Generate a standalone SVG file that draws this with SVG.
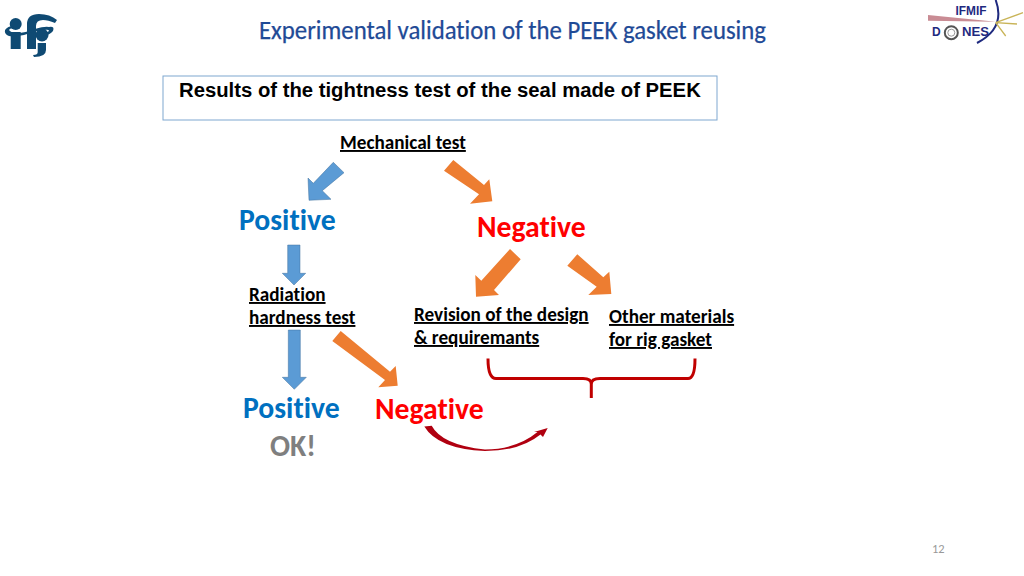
<svg xmlns="http://www.w3.org/2000/svg" width="1024" height="576" viewBox="0 0 1024 576">
<style>
text{font-family:Carlito,Lato,"Open Sans","Liberation Sans",sans-serif;font-variant-ligatures:none}
.lbl{font-size:19.2px;font-weight:700;fill:#000;text-decoration:underline}
.big{font-size:29.7px;font-weight:700}
.pos{fill:#0070C0}.neg{fill:#FF0000}
.blue{fill:#5B9BD5;stroke:#41719C;stroke-width:.5}
.org{fill:#ED7D31}
.lg{font-family:"Liberation Sans",sans-serif;font-weight:700;fill:#1F2A7F}
</style>
<rect width="1024" height="576" fill="#fff"/>
<g id="logo-ifj" fill="#0F4A73">
<circle cx="15.7" cy="24" r="6"/><rect x="10.7" y="32" width="10" height="17"/>
<path d="M27 49V24q0-10 12-10q11 0 18 6l-2 3q-7-3-12-3q-7 0-7 6v23z"/>
<circle cx="42" cy="35" r="6.5"/><path d="M37.700 43h8.300v7q0 7-12 7l-1-2q5 0 4.700-3z"/>
<path d="M5 30q3-4 8-4l1 2q-4 0-5 2q2 3 8 3q8 0 18-4q10-3 14-2q6-1 4 4q-3 4-10 5l-1-2q5-1 7-3q0-2-5-1q-10 1-20 5q-10 2-15 1q-5-2-4-6z"/>
</g>
<g id="title"><text x="512.500" y="39" text-anchor="middle" font-size="26" fill="#1F4A96" stroke="#1F4A96" stroke-width=".25" textLength="507" lengthAdjust="spacingAndGlyphs">Experimental validation of the PEEK gasket reusing</text></g>
<g id="logo-dones">
<path d="M928 15L996 21.700L928 20.700z" fill="#C98C94"/>
<path d="M995.700 0Q1006 28 977 43" fill="none" stroke="#1F2A7F" stroke-width="2"/>
<path d="M995.700 22.700L1023 12.700M995.700 22.700L1017 24M995.700 22.700L1005.700 36" stroke="#C9B458" stroke-width="1.300" fill="none"/>
<text class="lg" x="955.500" y="14.500" font-size="12" textLength="31" lengthAdjust="spacingAndGlyphs">IFMIF</text>
<text class="lg" x="932" y="36" font-size="12">D</text>
<circle cx="951.300" cy="32.700" r="6.500" fill="none" stroke="#555" stroke-width="2"/>
<circle cx="951.300" cy="32.700" r="3.500" fill="none" stroke="#999" stroke-width="1"/>
<text class="lg" x="962" y="36" font-size="12" textLength="27" lengthAdjust="spacingAndGlyphs">NES</text>
</g>
<g id="header-box">
<rect x="163" y="76" width="554" height="44" fill="#fff" stroke="#7FA7D0" stroke-width="1"/>
<text x="179" y="97" style="font-family:'Liberation Sans',Arial,sans-serif" font-size="20.300" font-weight="700" fill="#000">Results of the tightness test of the seal made of PEEK</text>
</g>
<g id="connectors">
<polygon class="blue" points="333.300,162.300 344,172.700 322.300,190.700 331,199.300 309,200.300 308,178 313.300,183.300"/>
<polygon class="org" points="453.300,160 444,170.700 479,194.300 470,203.700 492.300,201.300 489.300,179.300 484,185"/>
<polygon class="blue" points="287.700,245 300,245 300,273.300 305.700,273.300 294,285 282.300,273.300 287.700,273.300"/>
<polygon class="org" points="510,249 520.700,259.300 494,290 499,295 476,296.700 475.300,275 481.300,280.700"/>
<polygon class="org" points="577.300,254.300 567.300,265.700 596.700,286.700 588.300,295 611.300,294 609.300,271.700 603.300,277.300"/>
<polygon class="blue" points="288.300,330 300.300,330 300.300,377.300 306.300,377.300 294.300,389.300 282.300,377.300 288.300,377.300"/>
<polygon class="org" points="340.700,331 332.300,341 385,380 378.300,387.300 397.700,385.700 395.700,366 390,371.700"/>
<path id="brace" d="M488 358.500Q488 378.500 496 378.500H583Q591.300 378.500 591.300 384V398M591.300 384Q591.300 378.500 600 378.500H688Q695 378.500 695 358.500" fill="none" stroke="#C00000" stroke-width="3"/>
<path id="curve" d="M424.300 426.500L431.700 425.700Q442 445 485 449.500Q517 449 537.500 432L534 432L547.700 428L543 437L540.500 434.500Q520 451 485 451Q438 449 424.300 426.500z" fill="#B00010"/>
</g>
<g id="n-mech"><text class="lbl" x="340" y="149">Mechanical test</text></g>
<g id="n-pos1"><text class="big pos" x="239" y="230">Positive</text></g>
<g id="n-neg1"><text class="big neg" x="477" y="237">Negative</text></g>
<g id="n-rad"><text class="lbl" x="249" y="301">Radiation</text><text class="lbl" x="249" y="324">hardness test</text></g>
<g id="n-rev"><text class="lbl" x="414" y="321">Revision of the design</text><text class="lbl" x="414" y="344">&amp; requiremants</text></g>
<g id="n-other"><text class="lbl" x="609" y="323">Other materials</text><text class="lbl" x="609" y="346">for rig gasket</text></g>
<g id="n-pos2"><text class="big pos" x="243" y="418">Positive</text></g>
<g id="n-ok"><text class="big" x="270" y="456" fill="#7F7F7F">OK!</text></g>
<g id="n-neg2"><text class="big neg" x="375" y="419">Negative</text></g>
<g id="page"><text x="932" y="553" font-size="12.500" fill="#999">12</text></g>
</svg>
